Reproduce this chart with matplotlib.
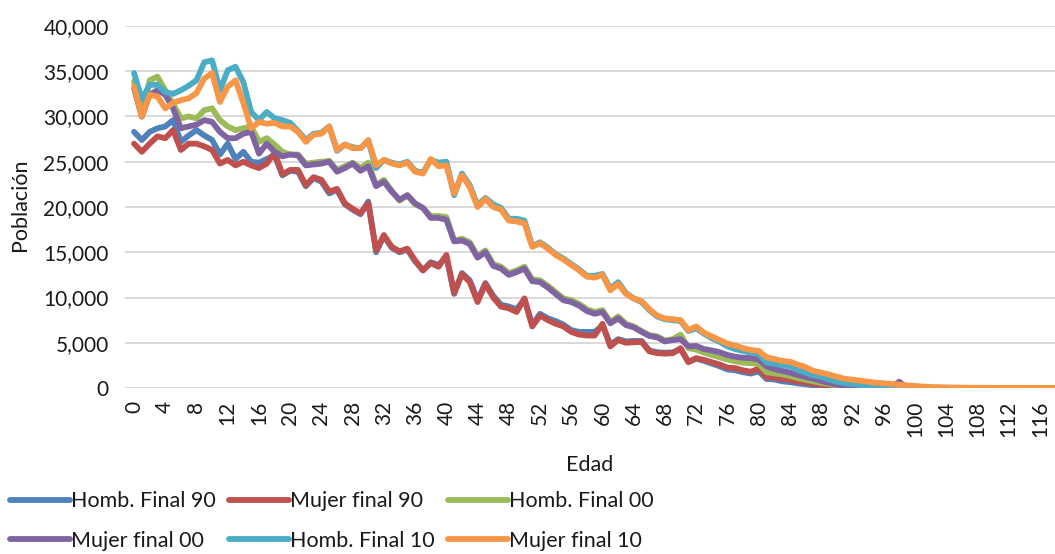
import matplotlib
matplotlib.use('Agg')
import matplotlib.pylab as plt
import numpy as np

params = {'font.family': ['Lato', 'DejaVu Sans'],
          'font.size': 15,
          'xtick.labelsize': 15,
          'ytick.labelsize': 15,
          'text.color': '#1a1a1a',
          'xtick.color': '#1a1a1a',
          'ytick.color': '#1a1a1a'}
plt.rcParams.update(params)

# edades 0..118
edad = np.arange(0, 119)

homb_90 = [28300, 27400, 28300, 28700, 28900, 29600, 27200, 27900, 28500, 27900, 27400, 25800, 27000, 25300, 26100, 25000, 24900, 25300, 25700, 23500, 24000,
           23900, 22300, 23200, 22800, 21500, 21900, 20300, 19700, 19200, 20600, 15000, 16800, 15500, 15000, 15300, 14000, 13000, 13900, 13600, 14500, 10400,
           12700, 11900, 9700, 11600, 10200, 9200, 9000, 8700, 9800, 7000, 8200, 7700, 7400, 7000, 6400, 6200, 6200, 6200,
           6900, 4800, 5400, 5150, 5200, 5200, 4150, 3950, 3900, 3950, 4300, 2900, 3250, 3000, 2700, 2400, 2050, 1950, 1750, 1600, 1850,
           1000, 950, 750, 650, 520, 420, 300, 220, 150, 90, 60, 40, 30, 20, 10, 5, 5, 5, 0, 0,
           0, 0, 0, 0, 0, 0, 0, 0, 0, 0, 0, 0, 0, 0, 0, 0, 0, 0]

mujer_90 = [27000, 26100, 27000, 27800, 27600, 28500, 26300, 27000, 27000, 26700, 26300, 24800, 25200, 24600, 25000, 24600, 24300, 24800, 26000, 23600, 24100,
            24100, 22400, 23300, 23000, 21700, 22000, 20400, 19800, 19300, 20400, 15200, 16900, 15600, 15100, 15400, 14100, 13000, 13800, 13400, 14700, 10500,
            12600, 11700, 9500, 11500, 10000, 9000, 8800, 8400, 9900, 6800, 8000, 7500, 7100, 6800, 6200, 5900, 5800, 5800,
            7100, 4600, 5300, 5000, 5050, 5100, 4050, 3850, 3800, 3850, 4400, 2850, 3300, 3100, 2850, 2600, 2250, 2200, 1950, 1800, 2150,
            1200, 1150, 1000, 900, 720, 600, 450, 340, 250, 160, 120, 90, 70, 50, 40, 30, 20, 200, 10, 5,
            0, 0, 0, 0, 0, 0, 0, 0, 0, 0, 0, 0, 0, 0, 0, 0, 0, 0]

homb_00 = [33900, 30000, 34000, 34400, 32900, 31400, 29800, 30000, 29800, 30700, 30900, 29600, 28900, 28500, 28700, 28900, 27200, 27600, 26900, 26100, 25800,
           25800, 24800, 24900, 25000, 25100, 24100, 24500, 24900, 24300, 24900, 22400, 23000, 21800, 20700, 21300, 20300, 19900, 19000, 19000, 18900, 16300,
           16500, 16100, 14600, 15200, 13700, 13400, 12700, 13000, 13400, 12000, 11900, 11300, 10600, 9900, 9700, 9300, 8700, 8400,
           8600, 7300, 7900, 7100, 6800, 6300, 5850, 5700, 5250, 5400, 5900, 4400, 4250, 3900, 3650, 3400, 3150, 2950, 2800, 2750, 2700,
           1750, 1620, 1510, 1330, 1100, 920, 740, 590, 440, 300, 200, 130, 90, 60, 40, 30, 20, 15, 10, 5,
           0, 0, 0, 0, 0, 0, 0, 0, 0, 0, 0, 0, 0, 0, 0, 0, 0, 0]

mujer_00 = [33100, 30000, 32400, 32900, 32400, 30900, 28700, 28900, 29100, 29600, 29400, 28300, 27600, 27600, 28100, 28300, 25900, 27000, 26100, 25600, 25800,
            25700, 24600, 24700, 24800, 25000, 23900, 24300, 24800, 24000, 24500, 22300, 22800, 21700, 20800, 21300, 20400, 19900, 18800, 18800, 18600, 16200,
            16300, 15900, 14400, 15000, 13500, 13200, 12500, 12800, 13200, 11800, 11700, 11100, 10400, 9700, 9500, 9100, 8500, 8200,
            8400, 7150, 7700, 6950, 6700, 6200, 5750, 5600, 5150, 5300, 5400, 4600, 4650, 4300, 4150, 3950, 3650, 3450, 3350, 3300, 3150,
            2400, 2100, 1900, 1700, 1450, 1220, 1030, 780, 560, 380, 260, 180, 150, 110, 90, 70, 50, 700, 30, 20,
            10, 5, 0, 0, 0, 0, 0, 0, 0, 0, 0, 0, 0, 0, 0, 0, 0, 0]

homb_10 = [34800, 31900, 33500, 33500, 32700, 32500, 32900, 33400, 34000, 36000, 36200, 32900, 35100, 35500, 33800, 30500, 29600, 30500, 29800, 29600, 29300,
           28400, 27400, 28100, 28200, 28900, 26200, 26900, 26600, 26500, 27300, 24300, 25200, 24900, 24700, 25000, 24000, 23800, 25200, 24900, 25000, 21300,
           23700, 22400, 20200, 21000, 20300, 19900, 18700, 18700, 18500, 15700, 16100, 15500, 14800, 14300, 13700, 13100, 12400, 12400,
           12600, 11000, 11700, 10500, 9900, 9500, 8600, 7900, 7600, 7500, 7400, 6300, 6600, 6000, 5500, 5100, 4600, 4300, 4100, 3900, 3800,
           2800, 2700, 2500, 2400, 2000, 1700, 1400, 1250, 950, 700, 520, 450, 350, 280, 200, 150, 110, 80, 60, 40,
           30, 20, 10, 0, 0, 0, 0, 0, 0, 0, 0, 0, 0, 0, 0, 0, 0, 0]

mujer_10 = [33300, 30000, 32400, 32200, 30900, 31500, 31800, 32000, 32600, 34200, 34800, 31600, 33300, 34000, 31500, 28700, 29400, 29200, 29300, 28900, 28900,
            28300, 27200, 28000, 28100, 28900, 26300, 26900, 26500, 26500, 27400, 24600, 25200, 24800, 24600, 24900, 23900, 23700, 25300, 24500, 24600, 21500,
            23500, 22200, 20000, 20900, 20000, 19700, 18500, 18400, 18200, 15600, 16000, 15400, 14700, 14200, 13600, 13000, 12300, 12200,
            12500, 10800, 11500, 10400, 9900, 9600, 8700, 8000, 7700, 7600, 7500, 6400, 6800, 6100, 5700, 5300, 4900, 4700, 4400, 4200, 4100,
            3400, 3200, 3000, 2900, 2600, 2300, 1900, 1700, 1500, 1250, 1030, 920, 810, 700, 590, 520, 440, 370, 290, 220,
            160, 120, 90, 70, 50, 40, 30, 25, 20, 15, 10, 10, 10, 10, 5, 5, 5, 5]

series = [(homb_90, 'Homb. Final 90', '#4F81BD'),
          (mujer_90, 'Mujer final 90', '#C0504D'),
          (homb_00, 'Homb. Final 00', '#9BBB59'),
          (mujer_00, 'Mujer final 00', '#8064A2'),
          (homb_10, 'Homb. Final 10', '#4BACC6'),
          (mujer_10, 'Mujer final 10', '#F79646')]

fig = plt.figure(figsize=(10.55, 5.54), dpi=100)
ax = fig.add_axes([0.1189, 0.2996, 0.8811, 0.6535])

lineas = {}
for valores, nombre, color in series:
    l, = ax.plot(edad, valores, color=color, lw=4.2, label=nombre,
                 solid_joinstyle='round', solid_capstyle='round', zorder=3)
    lineas[nombre] = l

ax.set_xlim(-1.1, 117.95)
ax.set_ylim(0, 40000)
ax.set_xticks(np.arange(0, 117, 4))
ax.set_xticklabels([str(v) for v in range(0, 117, 4)], rotation=90)
ax.set_yticks(np.arange(0, 40001, 5000))
ax.set_yticklabels(['{:,}'.format(v) for v in range(0, 40001, 5000)])
ax.tick_params(axis='both', length=0)
ax.tick_params(axis='y', pad=12)
ax.tick_params(axis='x', pad=9)
ax.grid(axis='y', color='#D9D9D9', lw=1.4, zorder=0)
ax.set_axisbelow(True)
for s in ax.spines.values():
    s.set_visible(False)

fig.text(20 / 1055, 1 - 205 / 554, 'Población', rotation=90, ha='center', va='center', fontsize=15.5)
fig.text(590 / 1055, 1 - 465 / 554, 'Edad', ha='center', va='center', fontsize=15.5)

# ncol=3 llena por columnas
orden = ['Homb. Final 90', 'Mujer final 00', 'Mujer final 90', 'Homb. Final 10', 'Homb. Final 00', 'Mujer final 10']
fig.legend([lineas[n] for n in orden], orden, ncol=3, frameon=False,
           loc='center left', bbox_to_anchor=(10 / 1055, 1 - 521 / 554),
           borderpad=0, borderaxespad=0, handlelength=2.8, handletextpad=0.05,
           columnspacing=0.6, labelspacing=0.9, fontsize=15.5)

plt.savefig('out.png', dpi=100)
